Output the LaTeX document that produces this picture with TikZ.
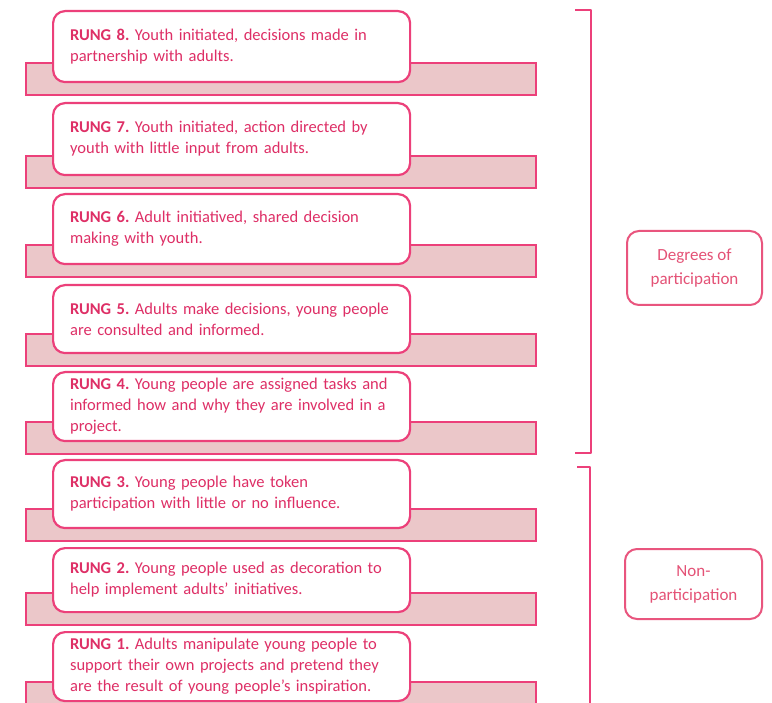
\documentclass[tikz,border=0pt]{standalone}
\usepackage{fontspec}
\setmainfont{Carlito}

\definecolor{rungline}{HTML}{EC407A}
\definecolor{rungtext}{HTML}{DE2F66}
\definecolor{barfill}{HTML}{EBC7C9}
\definecolor{tagline}{HTML}{E9557E}
\definecolor{tagtext}{HTML}{E45276}

% one rung: name, top edge, box height, text
\newcommand\drawrung[4]{%
  \draw[rungbar] (26,{#2+#3-18}) rectangle (536,{#2+#3+14});
  \node[rungbox, minimum height=#3pt] (#1) at (52,#2) {#4};
}

\begin{document}
\frenchspacing
\begin{tikzpicture}[x=1pt,y=-1pt,
  rungbox/.style={draw=rungline, line width=2.2pt, fill=white,
    rounded corners=12pt, anchor=north west, minimum width=357pt,
    text width=323pt, inner xsep=17pt, inner ysep=0pt, align=left,
    text=rungtext, font=\fontsize{16.5}{21}\selectfont},
  rungbar/.style={draw=rungline, line width=2pt, fill=barfill},
  tagbox/.style={draw=tagline, line width=2pt, fill=white,
    rounded corners=12pt, align=center, text=tagtext,
    font=\fontsize{17}{24}\selectfont},
  bracket/.style={draw=rungline, line width=2.5pt, line join=round}
]
\useasboundingbox (0,0) rectangle (772,703);
\clip (0,0) rectangle (772,703);
\fill[white] (0,0) rectangle (772,703);

\drawrung{r8}{10}{71}{\textbf{RUNG 8.} Youth initiated, decisions made in\\partnership with adults.}
\drawrung{r7}{102}{72}{\textbf{RUNG 7.} Youth initiated, action directed by\\youth with little input from adults.}
\drawrung{r6}{193}{70}{\textbf{RUNG 6.} Adult initiatived, shared decision\\making with youth.}
\drawrung{r5}{284}{68}{\textbf{RUNG 5.} Adults make decisions, young people\\are consulted and informed.}
\drawrung{r4}{371}{69}{\textbf{RUNG 4.} Young people are assigned tasks and\\informed how and why they are involved in a\\project.}
\drawrung{r3}{459}{68}{\textbf{RUNG 3.} Young people have token\\participation with little or no influence.}
\drawrung{r2}{547}{64}{\textbf{RUNG 2.} Young people used as decoration to\\help implement adults' initiatives.}
\drawrung{r1}{631}{69}{\textbf{RUNG 1.} Adults manipulate young people to\\support their own projects and pretend they\\are the result of young people's inspiration.}

% group brackets
\draw[bracket] (575,10) -- (591,10) -- (591,453) -- (575,453);
\draw[bracket] (577,467) -- (590,467) -- (590,710);

% group labels
\node[tagbox, minimum width=135pt, minimum height=74pt] (deg) at (694.5,268) {Degrees of\\participation};
\node[tagbox, minimum width=137pt, minimum height=70pt] (non) at (693.5,584) {Non-\\participation};
\end{tikzpicture}
\end{document}
